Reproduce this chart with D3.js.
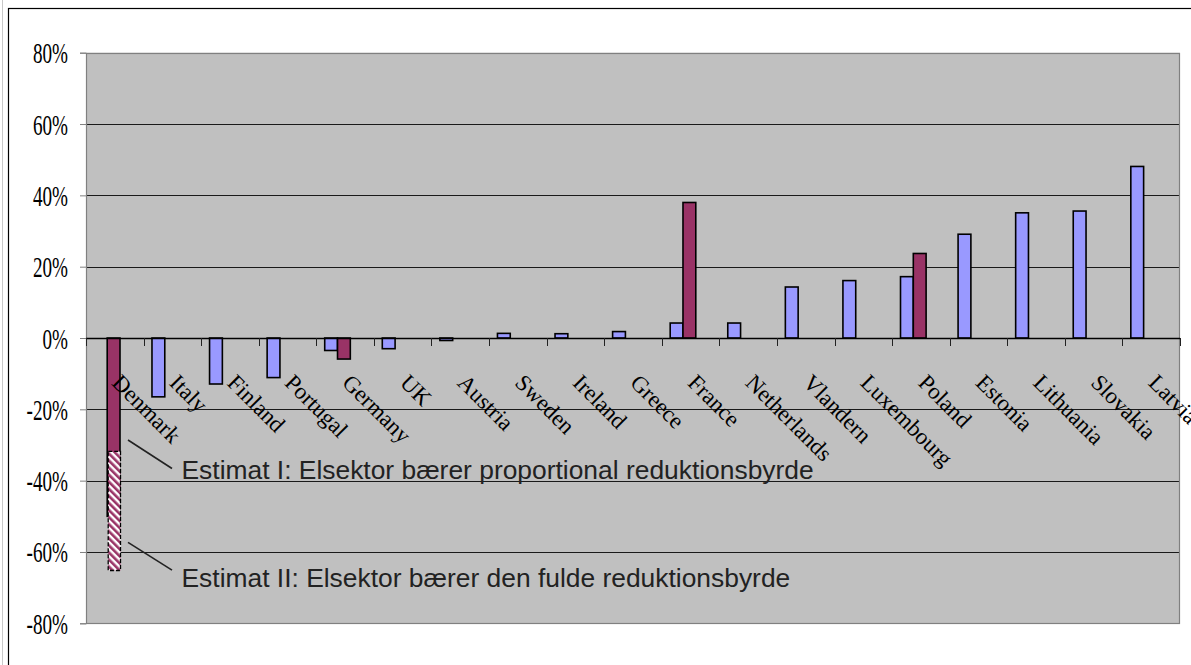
<!DOCTYPE html>
<html>
<head>
<meta charset="utf-8">
<script src="https://cdn.jsdelivr.net/npm/d3@7"></script>
<style>
  html, body { margin: 0; padding: 0; background: #ffffff; }
  svg { display: block; }
</style>
</head>
<body>
<svg id="chart" width="1191" height="665"></svg>
<script>
// ---------- DATA ----------
const categories = ["Denmark","Italy","Finland","Portugal","Germany","UK","Austria","Sweden","Ireland","Greece","France","Netherlands","Vlandern","Luxembourg","Poland","Estonia","Lithuania","Slovakia","Latvia"];
const seriesBlue   = [null,-0.165,-0.129,-0.111,-0.035,-0.030,-0.007,0.013,0.012,0.018,0.042,0.042,0.143,0.161,0.172,0.291,0.351,0.356,0.481];
const seriesMaroon = [-0.500,null,null,null,-0.059,null,null,null,null,null,0.380,null,null,null,0.237,null,null,null,null];
// hatched overlay on Denmark (from Estimat I down to Estimat II)
const hatchCategory = ["Denmark"];
const hatchFrom = [-0.318];
const hatchTo   = [-0.652];
// annotations
const annotLabels = ["Estimat I: Elsektor bærer proportional reduktionsbyrde","Estimat II: Elsektor bærer den fulde reduktionsbyrde"];
const annotLineStart = [-0.286, -0.573];
const annotLineEnd   = [-0.366, -0.651];
const annotTextAt    = [-0.396, -0.697];
const yTicks = [-0.8,-0.6,-0.4,-0.2,0,0.2,0.4,0.6,0.8];

// ---------- LAYOUT ----------
const svg = d3.select("#chart");
const plot = {left: 86, right: 1180, top: 52.7, bottom: 623.3};
const C = {blue: "#9999FF", maroon: "#993366", bg: "#C0C0C0"};

const x = d3.scaleBand().domain(categories).range([plot.left, plot.right]).padding(0);
const sub = d3.scaleBand().domain(["blue","maroon","spare"]).range([8.4, 8.4 + 3 * 12.8]);
const y = d3.scaleLinear().domain([-0.8, 0.8]).range([plot.bottom, plot.top]);

// outer frame
svg.append("line").attr("x1",2.5).attr("x2",2.5).attr("y1",0).attr("y2",665).attr("stroke","#c8c8c8").attr("stroke-width",1);
svg.append("rect").attr("x",8.5).attr("y",8.5).attr("width",1300).attr("height",800)
  .attr("fill","none").attr("stroke","#000").attr("stroke-width",1.2);

// plot background
svg.append("rect").attr("x",plot.left).attr("y",plot.top)
  .attr("width",plot.right-plot.left).attr("height",plot.bottom-plot.top)
  .attr("fill",C.bg);

// hatch pattern
const defs = svg.append("defs");
const pat = defs.append("pattern").attr("id","hatch").attr("patternUnits","userSpaceOnUse")
  .attr("width",5).attr("height",5).attr("patternTransform","rotate(-45)");
pat.append("rect").attr("width",5).attr("height",5).attr("fill","#ffffff");
pat.append("rect").attr("width",2.6).attr("height",5).attr("fill",C.maroon);

// gridlines
svg.append("g").selectAll("line").data(yTicks).join("line")
  .attr("x1",plot.left).attr("x2",plot.right)
  .attr("y1",d=>Math.round(y(d))+0.5).attr("y2",d=>Math.round(y(d))+0.5)
  .attr("stroke","#1a1a1a").attr("stroke-width",1);

// plot border
svg.append("rect").attr("x",plot.left+0.5).attr("y",Math.round(plot.top)+0.5)
  .attr("width",plot.right-plot.left-1).attr("height",Math.round(plot.bottom)-Math.round(plot.top))
  .attr("fill","none").attr("stroke","#808080").attr("stroke-width",1.2);

// y axis
const yAxis = svg.append("g").attr("transform",`translate(${plot.left},0)`)
  .call(d3.axisLeft(y).tickValues(yTicks).tickSize(6).tickFormat(d => Math.round(d*100) + "%"));
yAxis.select(".domain").attr("stroke","#808080");
yAxis.selectAll(".tick line").attr("stroke","#808080");
yAxis.selectAll(".tick text")
  .attr("x",0).attr("dy",null).attr("y",0)
  .attr("transform","translate(-18,10) scale(0.66,1)")
  .style("font-family","'Liberation Serif','Times New Roman',serif")
  .style("font-size","29px").attr("fill","#000").attr("text-anchor","end");

// bars
const rows = categories.map((c,i)=>({c, blue: seriesBlue[i], maroon: seriesMaroon[i]}));
const bars = [];
rows.forEach(r => {
  if (r.blue !== null) bars.push({c:r.c, k:"blue", v:r.blue});
  if (r.maroon !== null) bars.push({c:r.c, k:"maroon", v:r.maroon});
});
svg.append("g").selectAll("rect").data(bars).join("rect")
  .attr("x", d => x(d.c) + sub(d.k))
  .attr("width", sub.bandwidth())
  .attr("y", d => y(Math.max(0,d.v)))
  .attr("height", d => Math.abs(y(d.v) - y(0)))
  .attr("fill", d => C[d.k])
  .attr("stroke","#000").attr("stroke-width",1.6);

// hatched overlay
svg.append("g").selectAll("rect").data(hatchCategory.map((c,i)=>({c, a:hatchFrom[i], b:hatchTo[i]}))).join("rect")
  .attr("x", d => x(d.c) + sub("maroon") + 1)
  .attr("width", sub.bandwidth() - 0.5)
  .attr("y", d => y(d.a))
  .attr("height", d => y(d.b) - y(d.a))
  .attr("fill","url(#hatch)")
  .attr("stroke","#000").attr("stroke-width",1.3).attr("stroke-dasharray","4,2");

// x axis line
svg.append("line").attr("x1",plot.left).attr("x2",plot.right)
  .attr("y1",Math.round(y(0))+0.5).attr("y2",Math.round(y(0))+0.5)
  .attr("stroke","#000").attr("stroke-width",1.3);
// x axis ticks at category boundaries
const bounds = categories.map(c => x(c)).concat([plot.right]);
svg.append("g").selectAll("line").data(bounds).join("line")
  .attr("x1",d=>Math.round(d)+0.5).attr("x2",d=>Math.round(d)+0.5)
  .attr("y1",y(0)).attr("y2",y(0)+8)
  .attr("stroke","#222").attr("stroke-width",1);

// x axis labels
const xAxis = svg.append("g").attr("transform",`translate(0,${y(0)})`)
  .call(d3.axisBottom(x).tickSize(0));
xAxis.select(".domain").remove();
xAxis.selectAll(".tick text")
  .attr("x",0).attr("y",0).attr("dy",null)
  .attr("transform","translate(-4,46) rotate(45)")
  .attr("text-anchor","start")
  .style("font-family","'Liberation Serif','Times New Roman',serif")
  .style("font-size","23px").attr("fill","#000");

// annotations
const ann = annotLabels.map((t,i)=>({t, s:annotLineStart[i], e:annotLineEnd[i], ty:annotTextAt[i]}));
const x0 = x(categories[0]);
svg.append("g").selectAll("line").data(ann).join("line")
  .attr("x1", x0 + 42).attr("y1", d => y(d.s))
  .attr("x2", x0 + 86).attr("y2", d => y(d.e))
  .attr("stroke","#222").attr("stroke-width",1.6);
svg.append("g").selectAll("text").data(ann).join("text")
  .attr("x", x0 + 95.5).attr("y", d => y(d.ty))
  .text(d => d.t)
  .style("font-family","'Liberation Sans',Arial,sans-serif")
  .style("font-size","26.4px").attr("fill","#222");
</script>
</body>
</html>
